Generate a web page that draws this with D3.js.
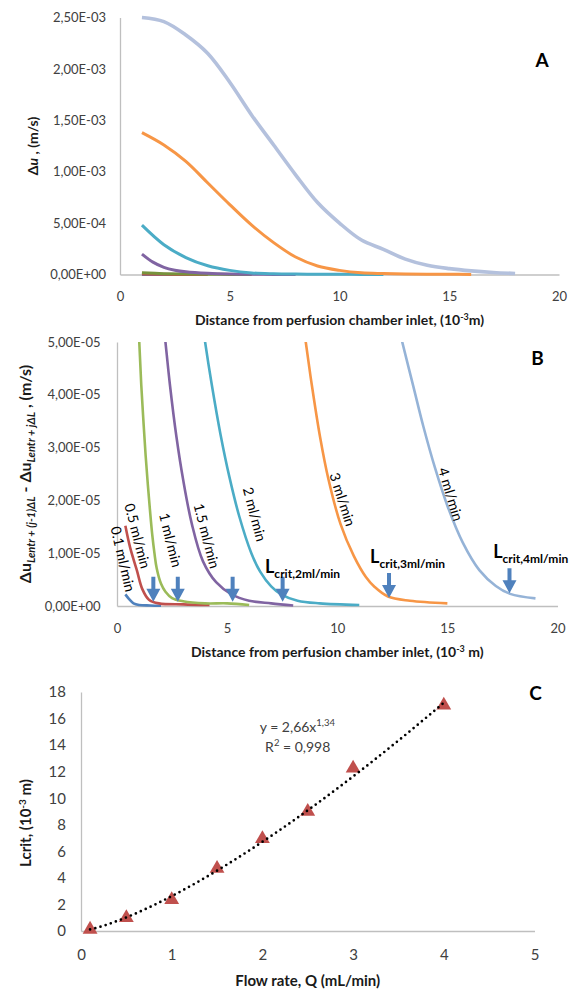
<!DOCTYPE html>
<html lang="en">
<head>
<meta charset="UTF-8">
<title>Critical entrance length</title>
<script src="https://d3js.org/d3.v7.min.js"></script>
<style>
  body { margin: 0; background: #fff; }
  svg { font-family: Lato, "Open Sans", sans-serif; }
</style>
</head>
<body>
<div id="chart"></div>
<script>
// ---------- data ----------
// Panel A: delta u (10^-3 m/s) against distance (10^-3 m)
var aDist = [1, 2, 3, 4, 5, 6, 7, 8, 9, 10, 11, 12, 13, 14, 15, 16, 17, 18];
var aFlow4 = [2.50, 2.46, 2.33, 2.15, 1.87, 1.55, 1.26, 0.97, 0.70, 0.50, 0.335, 0.245, 0.15, 0.09, 0.057, 0.035, 0.02, 0.01];
var aFlow3 = [1.38, 1.26, 1.10, 0.89, 0.68, 0.48, 0.31, 0.17, 0.083, 0.04, 0.016, 0.009, 0.005, 0.003, 0.002, 0.001];
var aFlow2 = [0.48, 0.29, 0.165, 0.085, 0.04, 0.015, 0.007, 0.004, 0.003, 0.002, 0.001, 0.001];
var aDist15 = [1, 1.5, 2, 2.5, 3, 4, 5, 6, 7, 8];
var aFlow15 = [0.198, 0.12, 0.07, 0.042, 0.026, 0.011, 0.004, 0.002, 0.001, 0.0005];
var aFlow1 = [0.016, 0.008, 0.004, 0.002, 0.001, 0.0005];
var aFlow05 = [0.004, 0.0015, 0.0006, 0.0002];
var aFlow01 = [0.0004, 0.0001, 0];
var aYTicks = [0, 0.5, 1.0, 1.5, 2.0, 2.5];
var aYLabels = ["0,00E+00", "5,00E-04", "1,00E-03", "1,50E-03", "2,00E-03", "2,50E-03"];

// Panel B: difference of delta u (10^-5 m/s) against distance (10^-3 m)
var bDist01 = [0.38, 0.55, 0.75, 1.0, 1.5, 2.0];
var bFlow01 = [0.22, 0.13, 0.05, 0.02, 0.01, 0.005];
var bDist05 = [0.38, 0.6, 0.9, 1.15, 1.45, 1.9, 3.0, 4.2];
var bFlow05 = [1.52, 1.10, 0.68, 0.32, 0.12, 0.05, 0.03, 0.02];
var bDist1 = [0.9, 1.0, 1.1, 1.2, 1.3, 1.4, 1.5, 1.6, 1.7, 1.8, 2.0, 2.2, 2.5, 3.0, 4.0, 5.0, 6.0];
var bFlow1 = [6.2, 5.1, 4.2, 3.5, 2.85, 2.3, 1.8, 1.35, 1.0, 0.72, 0.42, 0.27, 0.15, 0.09, 0.05, 0.05, 0.02];
var bDist15 = [2.1, 2.2, 2.4, 2.7, 3.0, 3.4, 3.9, 4.5, 5.2, 6.0, 7.0, 8.0];
var bFlow15 = [5.4, 5.0, 4.2, 3.2, 2.4, 1.55, 0.85, 0.45, 0.22, 0.10, 0.05, 0.01];
var bDist2 = [3.9, 4.0, 4.3, 4.7, 5.1, 5.55, 6.1, 6.5, 7.0, 7.45, 8.2, 9.2, 11.0];
var bFlow2 = [5.3, 5.0, 4.2, 3.25, 2.45, 1.7, 1.0, 0.65, 0.37, 0.22, 0.10, 0.05, 0.02];
var bDist3 = [8.45, 8.57, 8.84, 9.22, 9.6, 10.15, 10.75, 11.3, 11.7, 12.3, 13.3, 15.0];
var bFlow3 = [5.4, 5.0, 4.2, 3.2, 2.4, 1.55, 0.95, 0.55, 0.36, 0.18, 0.10, 0.05];
var bDist4 = [12.8, 12.95, 13.46, 13.91, 14.45, 15.0, 15.7, 16.45, 17.2, 17.85, 19.0];
var bFlow4 = [5.25, 5.0, 4.15, 3.4, 2.6, 1.9, 1.2, 0.68, 0.38, 0.23, 0.145];
var bYTicks = [0, 1, 2, 3, 4, 5];
var bYLabels = ["0,00E+00", "1,00E-05", "2,00E-05", "3,00E-05", "4,00E-05", "5,00E-05"];
// critical lengths marked with arrows
var lcritDist = [1.65, 2.76, 5.25, 7.52, 12.35, 17.82];
var lcritValue = [0.08, 0.08, 0.08, 0.08, 0.15, 0.24];
// curve labels
var flowLabels = ["0.1 ml/min", "0.5 ml/min", "1 ml/min", "1.5 ml/min", "2 ml/min", "3 ml/min", "4 ml/min"];
var flowLabelDist = [0.29, 0.95, 2.45, 4.09, 6.27, 10.26, 15.17];
var flowLabelValue = [0.89, 1.33, 1.25, 1.33, 1.74, 2.02, 2.12];
var lcritLabels = ["crit,2ml/min", "crit,3ml/min", "crit,4ml/min"];
var lcritLabelDist = [6.72, 11.49, 17.08];
var lcritLabelValue = [0.625, 0.81, 0.91];

// Panel C: Lcrit (10^-3 m) against flow rate (mL/min)
var cFlow = [0.1, 0.5, 1, 1.5, 2, 2.5, 3, 4];
var cLcrit = [0.12, 1.0, 2.35, 4.7, 6.95, 9.0, 12.25, 17.0];
var cXTicks = [0, 1, 2, 3, 4, 5];
var cYTicks = [0, 2, 4, 6, 8, 10, 12, 14, 16, 18];

var distTicks = [0, 5, 10, 15, 20];

// ---------- helpers ----------
var axisColor = "#bfbfbf";
var tickColor = "#404040";

function pairs(xs, ys, k) {
    return ys.map(function(v, i) { return [xs[i], v * k]; });
}

function styleAxis(g, size) {
    g.attr("font-family", "Lato, 'Open Sans', sans-serif").attr("font-size", size);
    g.select(".domain").attr("stroke", axisColor).attr("stroke-width", 1.3);
    g.selectAll(".tick text").attr("fill", tickColor);
}

var svg = d3.select("#chart").append("svg")
    .attr("width", 573)
    .attr("height", 994);

svg.append("rect").attr("width", 573).attr("height", 994).attr("fill", "#fff");

// ---------- Panel A ----------
var xA = d3.scaleLinear().domain([0, 20]).range([120, 559]);
var yA = d3.scaleLinear().domain([0, 2.5e-3]).range([274.5, 17.5]);

svg.append("g")
    .attr("transform", "translate(0," + yA(0) + ")")
    .call(d3.axisBottom(xA).tickValues(distTicks).tickFormat(d3.format("d"))
        .tickSize(0).tickSizeOuter(0).tickPadding(17))
    .call(styleAxis, 13);

svg.append("g")
    .attr("transform", "translate(" + xA(0) + ",0)")
    .call(d3.axisLeft(yA).tickValues(aYTicks.map(function(d) { return d * 1e-3; }))
        .tickFormat(function(d, i) { return aYLabels[i]; })
        .tickSize(0).tickSizeOuter(0).tickPadding(14))
    .call(styleAxis, 13);

var seriesA = [
    { pts: pairs(aDist, aFlow01, 1e-3), color: "#4f81bd", w: 3 },
    { pts: pairs(aDist, aFlow05, 1e-3), color: "#c0504d", w: 3 },
    { pts: pairs(aDist, aFlow1, 1e-3), color: "#77933c", w: 3 },
    { pts: pairs(aDist15, aFlow15, 1e-3), color: "#8064a2", w: 3 },
    { pts: pairs(aDist, aFlow2, 1e-3), color: "#4bacc6", w: 3 },
    { pts: pairs(aDist, aFlow3, 1e-3), color: "#f79646", w: 3 },
    { pts: pairs(aDist, aFlow4, 1e-3), color: "#b4c1dd", w: 3.6 }
];

var lineA = d3.line()
    .x(function(d) { return xA(d[0]); })
    .y(function(d) { return yA(d[1]); })
    .curve(d3.curveCatmullRom.alpha(0.5));

svg.append("g").selectAll("path")
    .data(seriesA)
    .join("path")
    .attr("d", function(d) { return lineA(d.pts); })
    .attr("fill", "none")
    .attr("stroke", function(d) { return d.color; })
    .attr("stroke-width", function(d) { return d.w; })
    .attr("stroke-linejoin", "round");

// axis titles A
var titleA = svg.append("text")
    .attr("x", (xA.range()[0] + xA.range()[1]) / 2)
    .attr("y", 325)
    .attr("text-anchor", "middle")
    .attr("font-weight", "bold")
    .attr("font-size", 14)
    .attr("fill", "#1a1a1a");
titleA.append("tspan").text("Distance from perfusion chamber inlet, (10");
titleA.append("tspan").attr("font-size", 9).attr("dy", -5).text("-3");
titleA.append("tspan").attr("dy", 5).text("m)");

var yTitleA = svg.append("text")
    .attr("transform", "translate(38," + (yA.range()[0] + yA.range()[1]) / 2 + ") rotate(-90)")
    .attr("text-anchor", "middle")
    .attr("font-weight", "bold")
    .attr("font-size", 14)
    .attr("fill", "#1a1a1a");
yTitleA.append("tspan").text("Δ");
yTitleA.append("tspan").attr("font-style", "italic").text("u");
yTitleA.append("tspan").text(" , (m/s)");

svg.append("text")
    .attr("x", xA.range()[1] - 17)
    .attr("y", 66.5)
    .attr("text-anchor", "middle")
    .attr("font-weight", "bold")
    .attr("font-size", 19)
    .text("A");

// ---------- Panel B ----------
var xB = d3.scaleLinear().domain([0, 20]).range([117, 557.5]);
var yB = d3.scaleLinear().domain([0, 5e-5]).range([606, 342]);

svg.append("g")
    .attr("transform", "translate(0," + yB(0) + ")")
    .call(d3.axisBottom(xB).tickValues(distTicks).tickFormat(d3.format("d"))
        .tickSize(0).tickSizeOuter(0).tickPadding(17.5))
    .call(styleAxis, 13);

svg.append("g")
    .attr("transform", "translate(" + xB(0) + ",0)")
    .call(d3.axisLeft(yB).tickValues(bYTicks.map(function(d) { return d * 1e-5; }))
        .tickFormat(function(d, i) { return bYLabels[i]; })
        .tickSize(0).tickSizeOuter(0).tickPadding(16.5))
    .call(styleAxis, 13);

svg.append("clipPath").attr("id", "clipB")
    .append("rect")
    .attr("x", xB(0))
    .attr("y", yB(5e-5))
    .attr("width", xB(20) - xB(0))
    .attr("height", yB(0) - yB(5e-5) + 4);

var seriesB = [
    { pts: pairs(bDist01, bFlow01, 1e-5), color: "#4f81bd" },
    { pts: pairs(bDist05, bFlow05, 1e-5), color: "#c0504d" },
    { pts: pairs(bDist1, bFlow1, 1e-5), color: "#9bbb59" },
    { pts: pairs(bDist15, bFlow15, 1e-5), color: "#8064a2" },
    { pts: pairs(bDist2, bFlow2, 1e-5), color: "#4bacc6" },
    { pts: pairs(bDist3, bFlow3, 1e-5), color: "#f79646" },
    { pts: pairs(bDist4, bFlow4, 1e-5), color: "#95b3d7" }
];

var lineB = d3.line()
    .x(function(d) { return xB(d[0]); })
    .y(function(d) { return yB(d[1]); })
    .curve(d3.curveCatmullRom.alpha(0.5));

svg.append("g")
    .attr("clip-path", "url(#clipB)")
    .selectAll("path")
    .data(seriesB)
    .join("path")
    .attr("d", function(d) { return lineB(d.pts); })
    .attr("fill", "none")
    .attr("stroke", function(d) { return d.color; })
    .attr("stroke-width", 2.6)
    .attr("stroke-linejoin", "round");

// arrows pointing at Lcrit
svg.append("g").selectAll("path")
    .data(lcritDist)
    .join("path")
    .attr("d", function(d, i) {
        var tx = xB(d), ty = yB(lcritValue[i] * 1e-5);
        return "M" + (tx - 2) + "," + (ty - 25) + "H" + (tx + 2) + "V" + (ty - 13) +
            "H" + (tx + 7) + "L" + tx + "," + ty + "L" + (tx - 7) + "," + (ty - 13) +
            "H" + (tx - 2) + "Z";
    })
    .attr("fill", "#4f81bd");

// rotated flow labels
var flowAngles = [77, 75.5, 76, 75.5, 75.5, 72, 73.5];
svg.append("g").selectAll("text")
    .data(flowLabels)
    .join("text")
    .attr("transform", function(d, i) {
        return "translate(" + xB(flowLabelDist[i]) + "," + yB(flowLabelValue[i] * 1e-5) + ") rotate(" + flowAngles[i] + ")";
    })
    .attr("text-anchor", "middle")
    .attr("dominant-baseline", "central")
    .attr("font-size", 14)
    .attr("fill", "#000")
    .text(function(d) { return d; });

// Lcrit labels
svg.append("g").selectAll("text")
    .data(lcritLabels)
    .join("text")
    .attr("x", function(d, i) { return xB(lcritLabelDist[i]); })
    .attr("y", function(d, i) { return yB(lcritLabelValue[i] * 1e-5); })
    .attr("font-weight", "bold")
    .attr("fill", "#000")
    .each(function(d) {
        var t = d3.select(this);
        t.append("tspan").attr("font-size", 18).text("L");
        t.append("tspan").attr("font-size", 12).attr("dy", 5).text(d);
    });

var titleB = svg.append("text")
    .attr("x", (xB.range()[0] + xB.range()[1]) / 2)
    .attr("y", 656.5)
    .attr("text-anchor", "middle")
    .attr("font-weight", "bold")
    .attr("font-size", 14)
    .attr("fill", "#1a1a1a");
titleB.append("tspan").text("Distance from perfusion chamber inlet, (10");
titleB.append("tspan").attr("font-size", 9).attr("dy", -5).text("-3");
titleB.append("tspan").attr("dy", 5).text(" m)");

var yTitleB = svg.append("text")
    .attr("transform", "translate(31," + (yB.range()[0] + yB.range()[1]) / 2 + ") rotate(-90)")
    .attr("text-anchor", "middle")
    .attr("font-weight", "bold")
    .attr("font-size", 16)
    .attr("fill", "#1a1a1a");
yTitleB.append("tspan").text("Δu");
yTitleB.append("tspan").attr("font-size", 11).attr("font-style", "italic").attr("dy", 4).text("Lentr + (j-1)ΔL");
yTitleB.append("tspan").attr("dy", -4).text(" - Δu");
yTitleB.append("tspan").attr("font-size", 11).attr("font-style", "italic").attr("dy", 4).text("Lentr + jΔL");
yTitleB.append("tspan").attr("dy", -4).text(" , (m/s)");

svg.append("text")
    .attr("x", xB.range()[1] - 20)
    .attr("y", 364.5)
    .attr("text-anchor", "middle")
    .attr("font-weight", "bold")
    .attr("font-size", 19)
    .text("B");

// ---------- Panel C ----------
var xC = d3.scaleLinear().domain([0, 5]).range([81, 534.5]);
var yC = d3.scaleLinear().domain([0, 18]).range([931, 692]);

svg.append("g")
    .attr("transform", "translate(0," + yC(0) + ")")
    .call(d3.axisBottom(xC).tickValues(cXTicks).tickFormat(d3.format("d"))
        .tickSize(0).tickSizeOuter(0).tickPadding(18.5))
    .call(styleAxis, 15);

svg.append("g")
    .attr("transform", "translate(" + xC(0) + ",0)")
    .call(d3.axisLeft(yC).tickValues(cYTicks).tickFormat(d3.format("d"))
        .tickSize(0).tickSizeOuter(0).tickPadding(15))
    .call(styleAxis, 15);

// triangle markers
svg.append("g").selectAll("path")
    .data(cFlow)
    .join("path")
    .attr("transform", function(d, i) { return "translate(" + xC(d) + "," + yC(cLcrit[i]) + ")"; })
    .attr("d", d3.symbol().type(d3.symbolTriangle).size(95))
    .attr("fill", "#c0504d");

// power trendline fitted in log-log space from the data
var lx = cFlow.map(Math.log), ly = cLcrit.map(Math.log);
var mx = d3.mean(lx), my = d3.mean(ly);
var slope = d3.sum(lx, function(v, i) { return (v - mx) * (ly[i] - my); }) /
    d3.sum(lx, function(v) { return (v - mx) * (v - mx); });
var coef = Math.exp(my - slope * mx);
var trendX = d3.range(cFlow[0], cFlow[cFlow.length - 1] + 1e-9, 0.05);

svg.append("path")
    .datum(trendX)
    .attr("d", d3.line()
        .x(function(d) { return xC(d); })
        .y(function(d) { return yC(coef * Math.pow(d, slope)); }))
    .attr("fill", "none")
    .attr("stroke", "#000")
    .attr("stroke-width", 2.7)
    .attr("stroke-linecap", "round")
    .attr("stroke-dasharray", "0,5.4");

var eq = svg.append("text")
    .attr("x", xC(1.97))
    .attr("y", yC(15.0))
    .attr("font-size", 14)
    .attr("fill", "#404040");
eq.append("tspan").text("y = 2,66x");
eq.append("tspan").attr("font-size", 9.5).attr("dy", -6).text("1,34");

var r2 = svg.append("text")
    .attr("x", xC(2.03))
    .attr("y", yC(13.5))
    .attr("font-size", 14)
    .attr("fill", "#404040");
r2.append("tspan").text("R");
r2.append("tspan").attr("font-size", 9.5).attr("dy", -6).text("2");
r2.append("tspan").attr("dy", 6).text(" = 0,998");

svg.append("text")
    .attr("x", (xC.range()[0] + xC.range()[1]) / 2)
    .attr("y", 986)
    .attr("text-anchor", "middle")
    .attr("font-weight", "bold")
    .attr("font-size", 15)
    .attr("fill", "#1a1a1a")
    .text("Flow rate, Q (mL/min)");

var yTitleC = svg.append("text")
    .attr("transform", "translate(31,823) rotate(-90)")
    .attr("text-anchor", "middle")
    .attr("font-weight", "bold")
    .attr("font-size", 15)
    .attr("fill", "#1a1a1a");
yTitleC.append("tspan").text("Lcrit, (10");
yTitleC.append("tspan").attr("font-size", 10).attr("dy", -5).text("-3");
yTitleC.append("tspan").attr("dy", 5).text(" m)");

svg.append("text")
    .attr("x", xC.range()[1] + 1)
    .attr("y", 699.5)
    .attr("text-anchor", "middle")
    .attr("font-weight", "bold")
    .attr("font-size", 19)
    .text("C");
</script>
</body>
</html>
